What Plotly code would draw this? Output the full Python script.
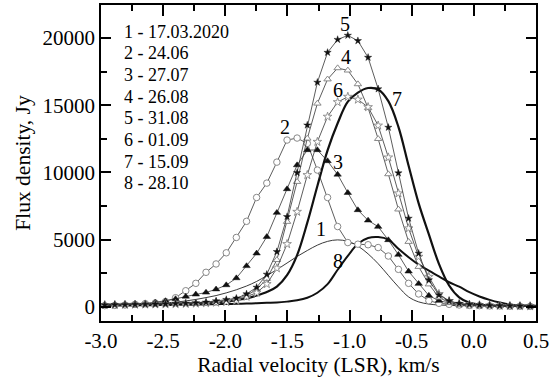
import plotly.graph_objects as go

# Radial velocity channels (km/s)
velocity = [-2.970, -2.889, -2.807, -2.726, -2.644, -2.563, -2.481, -2.400, -2.318, -2.237,
            -2.155, -2.074, -1.992, -1.911, -1.829, -1.748, -1.666, -1.585, -1.503, -1.422,
            -1.340, -1.259, -1.177, -1.096, -1.014, -0.933, -0.851, -0.770, -0.688, -0.607,
            -0.525, -0.444, -0.362, -0.281, -0.199, -0.118, -0.036, 0.045, 0.127, 0.208,
            0.290, 0.371, 0.453, 0.535]

# Flux density (Jy) per epoch
flux_1 = [150, 170, 190, 210, 240, 270, 310, 360, 450, 560,
          700, 850, 1050, 1280, 1560, 1900, 2330, 2780, 3270, 3760,
          4200, 4600, 4880, 4990, 4880, 4530, 3950, 3220, 2350, 1500,
          750, 380, 220, 150, 120, 100, 90, 80, 75, 70,
          70, 65, 65, 60]
flux_2 = [100, 120, 150, 200, 250, 300, 400, 690, 1210, 1760,
          2580, 3200, 4030, 5170, 6370, 8140, 9210, 10770, 12410, 12560,
          12160, 10180, 8140, 5980, 4790, 4670, 4630, 4420, 3790, 2800,
          1760, 970, 470, 275, 200, 150, 120, 100, 80, 80,
          60, 60, 50, 50]
flux_3 = [150, 170, 200, 230, 260, 350, 450, 600, 780, 940,
          1080, 1320, 1630, 2150, 3050, 3990, 5220, 7010, 8770, 10550,
          11670, 11670, 10850, 9850, 8490, 7210, 6440, 5970, 4980, 3890,
          2650, 1730, 850, 470, 300, 200, 150, 120, 100, 90,
          80, 70, 60, 60]
flux_4 = [150, 160, 170, 180, 190, 200, 210, 230, 250, 280,
          320, 380, 450, 600, 850, 1300, 2100, 3500, 6340, 9310,
          12530, 15130, 16930, 17760, 17590, 16570, 14800, 12500, 9880, 7260,
          4850, 2990, 1690, 720, 320, 190, 150, 120, 100, 90,
          80, 70, 60, 60]
flux_5 = [150, 170, 180, 190, 200, 210, 230, 250, 270, 300,
          350, 450, 550, 650, 970, 1460, 2430, 4110, 6710, 9980,
          13520, 16700, 18920, 19880, 20190, 19790, 18550, 16210, 13350, 9960,
          6590, 3990, 2010, 890, 450, 260, 200, 150, 120, 100,
          90, 80, 70, 70]
flux_6 = [150, 160, 170, 180, 190, 200, 210, 220, 240, 260,
          290, 330, 380, 480, 770, 1060, 1710, 2880, 4680, 7080,
          9810, 12280, 14150, 15230, 15630, 15420, 14860, 13490, 11120, 8450,
          5850, 3740, 2250, 970, 450, 220, 170, 130, 110, 90,
          80, 70, 60, 60]
flux_7 = [170, 180, 190, 200, 210, 220, 230, 240, 250, 270,
          300, 340, 400, 520, 640, 850, 1120, 1520, 2370, 3860,
          6270, 9000, 11640, 13660, 15260, 15940, 16280, 16170, 15300, 13390,
          10500, 7700, 5400, 3210, 1600, 720, 320, 180, 120, 100,
          90, 80, 75, 75]
flux_8 = [90, 100, 110, 120, 130, 140, 150, 160, 170, 180,
          195, 210, 225, 240, 260, 280, 310, 330, 400, 500,
          690, 1060, 1700, 2770, 3800, 4700, 5130, 5200, 5010, 4330,
          3700, 3150, 2700, 2280, 1840, 1510, 1100, 780, 530, 330,
          180, 120, 100, 90]

epoch_labels = ["1 - 17.03.2020", "2 - 24.06", "3 - 27.07", "4 - 26.08",
                "5 - 31.08", "6 - 01.09", "7 - 15.09", "8 - 28.10"]
curve_numbers = ["1", "2", "3", "4", "5", "6", "7", "8"]
curve_label_v = [-1.23, -1.52, -1.09, -1.03, -1.04, -1.09, -0.62, -1.09]
curve_label_f = [5800, 13370, 10770, 18580, 21050, 16120, 15450, 3420]

x_tick_vals = [-3.0, -2.5, -2.0, -1.5, -1.0, -0.5, 0.0, 0.5]
x_tick_labels = ["-3.0", "-2.5", "-2.0", "-1.5", "-1.0", "-0.5", "0.0", "0.5"]

FONT = "Liberation Serif, Times New Roman, serif"
TICK_SIZE = 21
fig = go.Figure()

# smooth lines (no markers)
fig.add_trace(go.Scatter(x=velocity, y=flux_8, mode="lines", line=dict(color="#111", width=2.0, shape="spline")))
fig.add_trace(go.Scatter(x=velocity, y=flux_7, mode="lines", line=dict(color="#111", width=2.2, shape="spline")))
fig.add_trace(go.Scatter(x=velocity, y=flux_1, mode="lines", line=dict(color="#222", width=0.9, shape="spline")))

marker_series = [
    (flux_2, dict(symbol="circle", size=6.5, color="white", line=dict(color="#888", width=1))),
    (flux_3, dict(symbol="triangle-up", size=6.5, color="#111", line=dict(color="#111", width=0.5))),
    (flux_4, dict(symbol="triangle-up", size=6.5, color="white", line=dict(color="#888", width=1))),
    (flux_6, dict(symbol="star", size=6.5, color="white", line=dict(color="#888", width=0.9))),
    (flux_5, dict(symbol="star", size=5.5, color="#111", line=dict(color="#111", width=0.4))),
]
for ys, mk in marker_series:
    fig.add_trace(go.Scatter(x=velocity, y=ys, mode="lines+markers",
                             line=dict(color="#333", width=0.8), marker=mk))

# curve number labels
for t, v, f in zip(curve_numbers, curve_label_v, curve_label_f):
    fig.add_annotation(x=v, y=f, text=t, showarrow=False, xref="x", yref="y",
                       font=dict(family=FONT, size=20, color="black"))

# epoch list
line_y_px = [32, 53, 75, 97, 118, 140, 162, 183]
for t, ypx in zip(epoch_labels, line_y_px):
    fig.add_annotation(x=(122 - 101) / 435, y=(321 - ypx) / 316, xref="paper", yref="paper",
                       text=t, showarrow=False, xanchor="left", yanchor="middle",
                       font=dict(family=FONT, size=18, color="black"))

axis_common = dict(showline=True, linecolor="black", linewidth=1.8, mirror="ticks",
                   ticks="inside", tickcolor="black", tickwidth=1.5, showgrid=False,
                   zeroline=False, automargin=False,
                   tickfont=dict(family=FONT, size=TICK_SIZE, color="black"))

fig.update_layout(
    width=560, height=380,
    margin=dict(l=101, r=24, t=5, b=59),
    paper_bgcolor="white", plot_bgcolor="white",
    showlegend=False,
    font=dict(family=FONT, color="black"),
    xaxis=dict(range=[-3.0, 0.5], tickvals=x_tick_vals, ticktext=x_tick_labels, ticklen=11,
               minor=dict(dtick=0.25, tick0=-3.0, ticks="inside", ticklen=6, tickwidth=1.5, tickcolor="black"),
               title=dict(text="Radial velocity (LSR), km/s", font=dict(family=FONT, size=21.5, color="black"), standoff=4),
               **axis_common),
    yaxis=dict(range=[-1040, 22450], dtick=5000, tick0=0, tickformat="d", ticklen=10,
               minor=dict(dtick=2500, tick0=0, ticks="inside", ticklen=6, tickwidth=1.5, tickcolor="black"),
               title=dict(text="Flux density, Jy", font=dict(family=FONT, size=21.5, color="black"), standoff=6),
               **axis_common),
)

fig.write_html("out.html", config={"displayModeBar": False},
               post_script="document.body.style.margin='0';document.body.style.overflow='hidden';")
